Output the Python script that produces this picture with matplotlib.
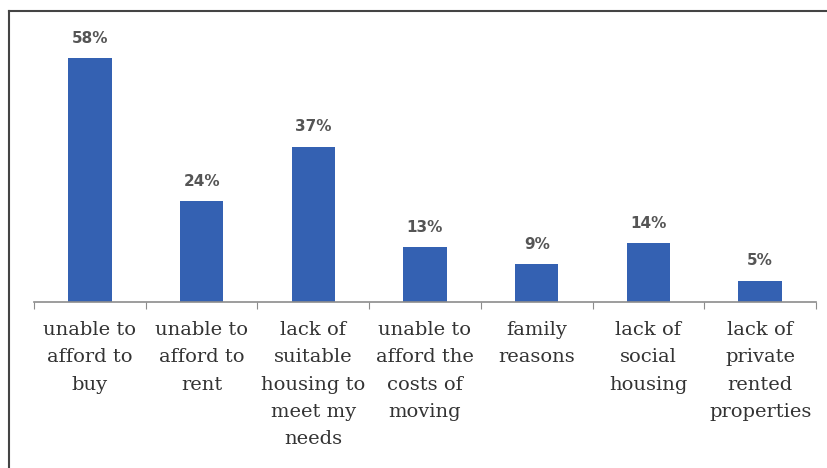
import matplotlib
matplotlib.use('Agg')
from matplotlib import pyplot as plt
from matplotlib.lines import Line2D

# reasons for not moving (% of respondents)
reasons = ['unable to\nafford to\nbuy', 'unable to\nafford to\nrent',
           'lack of\nsuitable\nhousing to\nmeet my\nneeds',
           'unable to\nafford the\ncosts of\nmoving', 'family\nreasons',
           'lack of\nsocial\nhousing', 'lack of\nprivate\nrented\nproperties']
pct = [58, 24, 37, 13, 9, 14, 5]

W, H = 828, 468
fig = plt.figure(figsize=(W/100, H/100), dpi=100)
ax = fig.add_axes([34/W, 166/H, 782/W, 252/H])

x = list(range(len(pct)))
ax.bar(x, pct, width=0.39, color='#3461B2', zorder=2)
ax.set_xlim(-0.5, len(pct)-0.5)
ax.set_ylim(0, 60)

for xi, v in zip(x, pct):
    ax.text(xi, v+3.0, '%d%%' % v, ha='center', va='bottom', fontsize=11,
            color='#555555', family='DejaVu Sans', weight='bold')

for s in ['top', 'right', 'left']:
    ax.spines[s].set_visible(False)
ax.spines['bottom'].set_color('#8c8c8c')
ax.spines['bottom'].set_linewidth(1.2)
ax.set_yticks([])
ax.set_xticks([i-0.5 for i in range(len(pct)+1)], minor=False)
ax.set_xticklabels([])
ax.tick_params(axis='x', length=5, color='#8c8c8c', direction='out')

for xi, lab in zip(x, reasons):
    ax.text(xi, -0.075, lab, transform=ax.get_xaxis_transform(), ha='center', va='top',
            fontsize=14, color='#333333', family='DejaVu Serif', linespacing=1.67)

# outer frame (only top and left visible in the crop)
fig.add_artist(Line2D([8.5/W, 8.5/W], [0, 1-10.5/H], transform=fig.transFigure, color='#444444', lw=1.5))
fig.add_artist(Line2D([8.5/W, 1], [1-10.5/H, 1-10.5/H], transform=fig.transFigure, color='#444444', lw=1.5))

fig.savefig('out.png', dpi=100)
